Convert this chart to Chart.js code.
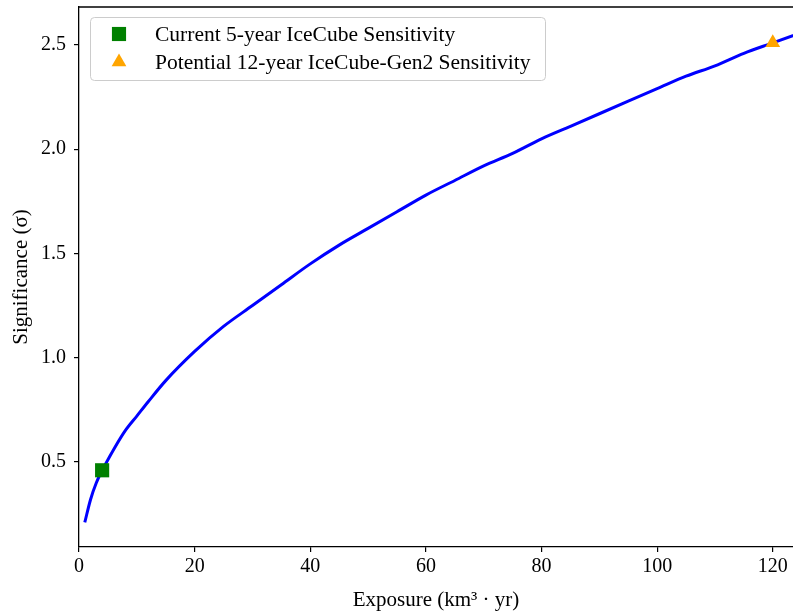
<!DOCTYPE html>
<html>
<head>
<meta charset="utf-8">
<script src="https://cdn.jsdelivr.net/npm/chart.js@4/dist/chart.umd.min.js"></script>
<style>
  html, body { margin: 0; padding: 0; background: #fff; overflow: hidden; }
  #wrap { width: 793px; height: 611px; position: relative; }
</style>
</head>
<body>
<div id="wrap"><canvas id="sigChart"></canvas></div>
<script>
// exposure (km^3 yr) and significance
const exposure = [1, 2, 3, 4, 5, 6, 8, 10, 12, 15, 20, 25, 30, 35, 40, 45, 50, 55, 60, 65, 70, 75, 80, 85, 90, 95, 100, 105, 110, 115, 120, 125];
const significance = [0.21, 0.32, 0.40, 0.46, 0.51, 0.56, 0.65, 0.72, 0.79, 0.89, 1.03, 1.15, 1.25, 1.35, 1.45, 1.54, 1.62, 1.70, 1.78, 1.85, 1.92, 1.98, 2.05, 2.11, 2.17, 2.23, 2.29, 2.35, 2.40, 2.46, 2.51, 2.56];

const currentPoint = [{ x: 4, y: 0.46 }];
const gen2Point = [{ x: 120, y: 2.51 }];

const xTicks = [0, 20, 40, 60, 80, 100, 120];
const yTicks = [0.5, 1.0, 1.5, 2.0, 2.5];

const serif = "'Liberation Serif', 'DejaVu Serif', serif";

// legend box drawn inside the plot, matplotlib style
const boxLegend = {
  id: "boxLegend",
  afterDraw(chart) {
    const ctx = chart.ctx;
    const items = [
      { label: "Current 5-year IceCube Sensitivity", ds: chart.data.datasets[1] },
      { label: "Potential 12-year IceCube-Gen2 Sensitivity", ds: chart.data.datasets[2] },
    ];
    const x0 = 90, y0 = 17, w = 455, h = 63, r = 4;
    ctx.save();
    ctx.beginPath();
    ctx.roundRect(x0 + 0.5, y0 + 0.5, w, h, r);
    ctx.fillStyle = "rgba(255,255,255,0.8)";
    ctx.fill();
    ctx.strokeStyle = "#cccccc";
    ctx.lineWidth = 1;
    ctx.stroke();
    ctx.font = "21.5px " + serif;
    ctx.textBaseline = "middle";
    items.forEach((it, i) => {
      const cy = y0 + 17 + i * 28;
      ctx.fillStyle = it.ds.backgroundColor;
      ctx.strokeStyle = it.ds.backgroundColor;
      Chart.helpers.drawPoint(ctx, {
        pointStyle: it.ds.pointStyle,
        radius: it.ds.pointRadius,
        borderWidth: 0,
        rotation: 0,
      }, 119, cy);
      ctx.fillStyle = "#000";
      ctx.fillText(it.label, 155, cy + 1);
    });
    ctx.restore();
  },
};

// top frame line (right edge falls outside the picture)
const topFrame = {
  id: "topFrame",
  afterDraw(chart) {
    const a = chart.chartArea;
    const ctx = chart.ctx;
    ctx.save();
    ctx.strokeStyle = "#000";
    ctx.lineWidth = 1.3;
    ctx.beginPath();
    ctx.moveTo(a.left, a.top);
    ctx.lineTo(a.right, a.top);
    ctx.stroke();
    ctx.restore();
  },
};

const ctx = document.getElementById("sigChart").getContext("2d");
new Chart(ctx, {
  type: "scatter",
  data: {
    datasets: [
      {
        label: "curve",
        data: exposure.map((x, i) => ({ x: x, y: significance[i] })),
        showLine: true,
        borderColor: "#0000ff",
        backgroundColor: "#0000ff",
        borderWidth: 3,
        pointRadius: 0,
        cubicInterpolationMode: "monotone",
        order: 3,
      },
      {
        label: "Current 5-year IceCube Sensitivity",
        data: currentPoint,
        pointStyle: "rect",
        pointRadius: 10,
        backgroundColor: "#008000",
        borderColor: "#008000",
        borderWidth: 0,
        order: 1,
      },
      {
        label: "Potential 12-year IceCube-Gen2 Sensitivity",
        data: gen2Point,
        pointStyle: "triangle",
        pointRadius: 8.5,
        backgroundColor: "#ffa500",
        borderColor: "#ffa500",
        borderWidth: 0,
        order: 2,
      },
    ],
  },
  options: {
    responsive: true,
    maintainAspectRatio: false,
    animation: false,
    layout: { autoPadding: false, padding: { top: 7, right: 0, left: 0, bottom: 0 } },
    plugins: {
      legend: { display: false },
      tooltip: { enabled: false },
    },
    scales: {
      x: {
        type: "linear",
        min: 0,
        max: 123.5,
        afterBuildTicks: (s) => { s.ticks = xTicks.map(v => ({ value: v })); },
        afterFit: (s) => { s.height = 64; s.paddingLeft = 0; s.paddingRight = 0; },
        ticks: { color: "#000", font: { family: serif, size: 20 }, padding: 3, maxRotation: 0 },
        grid: { drawOnChartArea: false, drawTicks: true, tickLength: 5, color: "#000", lineWidth: 1.2 },
        border: { color: "#000", width: 1.3 },
        title: { display: true, text: "Exposure (km³ · yr)", color: "#000", font: { family: serif, size: 21, lineHeight: 1 }, padding: { top: 2, bottom: 0 } },
      },
      y: {
        type: "linear",
        min: 0.092,
        max: 2.682,
        afterBuildTicks: (s) => { s.ticks = yTicks.map(v => ({ value: v })); },
        afterFit: (s) => { s.width = 79; s.paddingTop = 0; s.paddingBottom = 0; },
        ticks: { color: "#000", font: { family: serif, size: 20 }, padding: 8, callback: (v) => v.toFixed(1) },
        grid: { drawOnChartArea: false, drawTicks: true, tickLength: 5, color: "#000", lineWidth: 1.2 },
        border: { color: "#000", width: 1.3 },
        title: { display: true, text: "Significance (σ)", color: "#000", font: { family: serif, size: 21, lineHeight: 1 }, padding: { top: 11, bottom: 0 } },
      },
    },
  },
  plugins: [topFrame, boxLegend],
});
</script>
</body>
</html>
